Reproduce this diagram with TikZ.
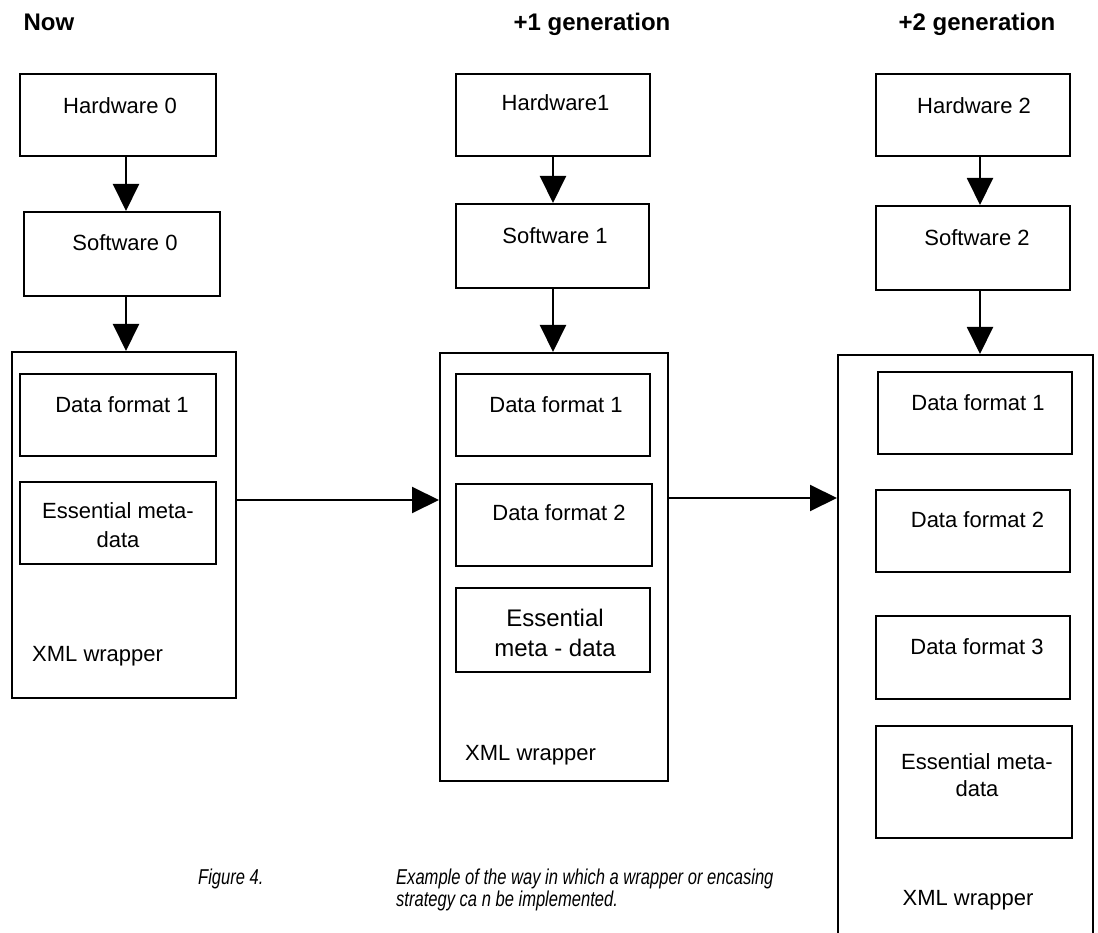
\documentclass[tikz,border=0pt]{standalone}
\usepackage{fontspec}
\setmainfont{Liberation Sans}
\newfontfamily\capfont[FakeStretch=0.77]{Liberation Sans}
\usetikzlibrary{arrows.meta}
\begin{document}
\begin{tikzpicture}[x=1pt,y=-1pt,
  box/.style={draw, line width=2pt, inner sep=0pt, rectangle},
  lbl/.style={inner sep=0pt, anchor=base, font=\fontsize{22}{29}\selectfont},
  head/.style={inner sep=0pt, anchor=base, font=\fontsize{24}{28}\selectfont\bfseries},
  multi/.style={inner sep=0pt, anchor=center, align=center},
  captxt/.style={inner sep=0pt, anchor=base west, font=\capfont\fontsize{21.5}{22}\selectfont\itshape},
  arr/.style={line width=2pt, -{Triangle[length=27pt,width=26pt]}}]
\clip (0,0) rectangle (1098,933);
\fill[white] (0,0) rectangle (1098,933);

% column headings
\node[head] (hNow) at (49,30.6) {Now};
\node[head] (hOne) at (592,30.6) {+1 generation};
\node[head] (hTwo) at (977,30.6) {+2 generation};

% ---- current generation ----
\node[box, minimum width=196, minimum height=82] (hw0) at (118,115) {};
\node[box, minimum width=196, minimum height=84] (sw0) at (122,254) {};
\node[box, minimum width=224, minimum height=346] (out0) at (124,525) {};
\node[box, minimum width=196, minimum height=82] (dfA) at (118,415) {};
\node[box, minimum width=196, minimum height=82] (emA) at (118,523) {};
\node[lbl] (hw0t) at (120,114) {Hardware 0};
\node[lbl] (sw0t) at (125,251) {Software 0};
\node[lbl] (dfAt) at (122,412) {Data format 1};
\node[lbl, multi] (emAt) at (118,525.5) {Essential meta-\\data};
\node[lbl, anchor=base west] (xmlA) at (32,661) {XML wrapper};

% ---- +1 generation ----
\node[box, minimum width=194, minimum height=82] (hw1) at (553,115) {};
\node[box, minimum width=193, minimum height=84] (sw1) at (552.5,246) {};
\node[box, minimum width=228, minimum height=428] (out1) at (554,567) {};
\node[box, minimum width=194, minimum height=82] (dfB1) at (553,415) {};
\node[box, minimum width=196, minimum height=82] (dfB2) at (554,525) {};
\node[box, minimum width=194, minimum height=84] (emB) at (553,630) {};
\node[lbl] (hw1t) at (555.5,111) {Hardware1};
\node[lbl] (sw1t) at (555,244) {Software 1};
\node[lbl] (dfB1t) at (556,412) {Data format 1};
\node[lbl] (dfB2t) at (559,520) {Data format 2};
\node[multi, font=\fontsize{24}{30}\selectfont] (emBt) at (555,633) {Essential\\meta - data};
\node[lbl, anchor=base west] (xmlB) at (465,760) {XML wrapper};

% ---- +2 generation ----
\node[box, minimum width=194, minimum height=82] (hw2) at (973,115) {};
\node[box, minimum width=194, minimum height=84] (sw2) at (973,248) {};
\node[box, minimum width=255, minimum height=595] (out2) at (965.5,652.5) {};
\node[box, minimum width=194, minimum height=82] (dfC1) at (975,413) {};
\node[box, minimum width=194, minimum height=82] (dfC2) at (973,531) {};
\node[box, minimum width=194, minimum height=83] (dfC3) at (973,657.5) {};
\node[box, minimum width=196, minimum height=112] (emC) at (974,782) {};
\node[lbl] (hw2t) at (974,114) {Hardware 2};
\node[lbl] (sw2t) at (977,246) {Software 2};
\node[lbl] (dfC1t) at (978,410) {Data format 1};
\node[lbl] (dfC2t) at (977.5,527) {Data format 2};
\node[lbl] (dfC3t) at (977,654) {Data format 3};
\node[multi, font=\fontsize{22}{27}\selectfont] (emCt) at (977,775) {Essential meta-\\data};
\node[lbl] (xmlC) at (968,905) {XML wrapper};

% ---- connectors ----
\draw[arr] ([xshift=8pt]hw0.south) -- ([xshift=8pt]hw0.south |- sw0.north);
\draw[arr] ([xshift=4pt]sw0.south) -- ([xshift=4pt]sw0.south |- out0.north);
\draw[arr] (hw1.south) -- (hw1.south |- sw1.north);
\draw[arr] ([xshift=0.5pt]sw1.south) -- ([xshift=0.5pt]sw1.south |- out1.north);
\draw[arr] ([xshift=7pt]hw2.south) -- ([xshift=7pt]hw2.south |- sw2.north);
\draw[arr] ([xshift=7pt]sw2.south) -- ([xshift=7pt]sw2.south |- out2.north);
\draw[arr] ([yshift=25pt]out0.east) -- ([yshift=25pt]out0.east -| out1.west);
\draw[arr] ([yshift=69pt]out1.east) -- ([yshift=69pt]out1.east -| out2.west);

% ---- caption ----
\node[captxt] (capA) at (198,884) {Figure 4.};
\node[captxt] (capB) at (396,884) {Example of the way in which a wrapper or encasing};
\node[captxt] (capC) at (396,906) {strategy ca n be implemented.};
\end{tikzpicture}
\end{document}
